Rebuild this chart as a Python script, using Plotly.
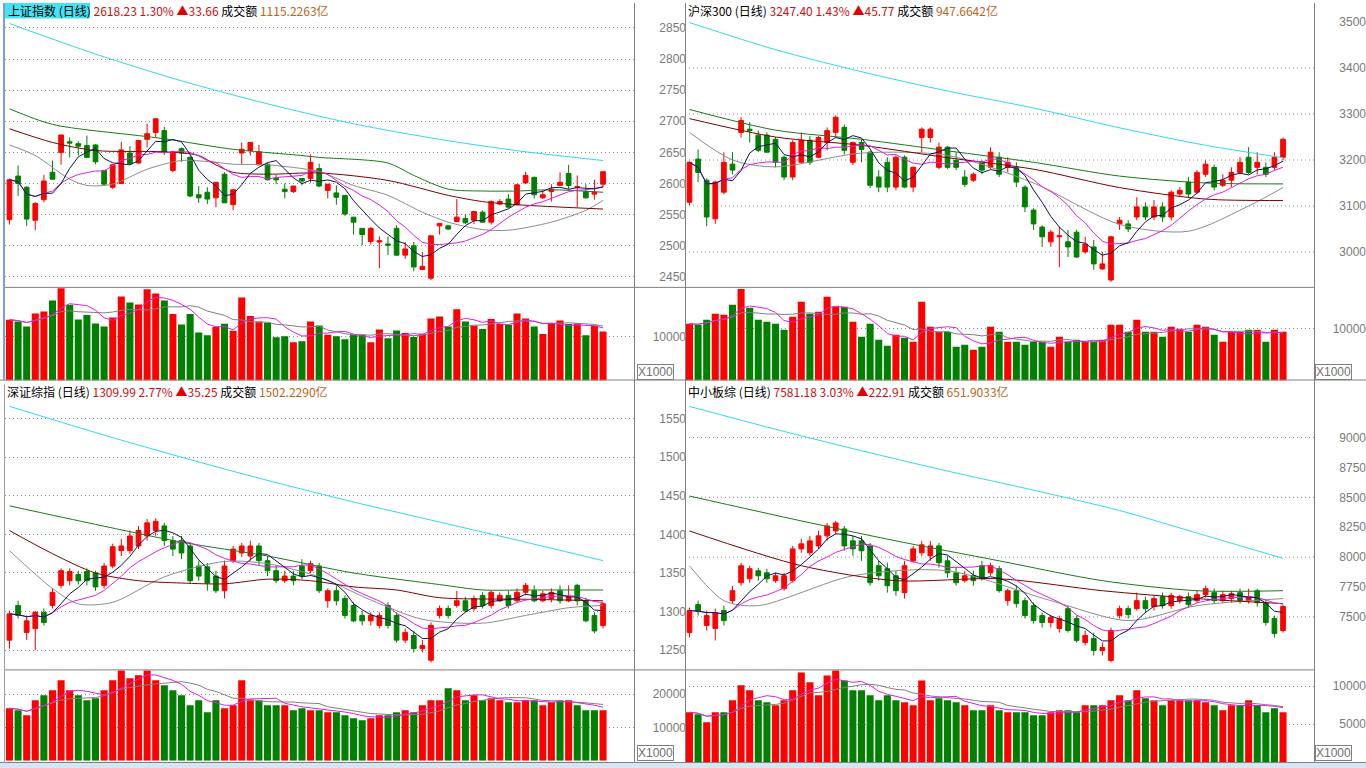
import plotly.graph_objects as go
import pandas as pd

W, H = 1366, 768
N = 70
idx = list(range(N))

# ---------------- 上证指数 (top-left) ----------------
sh_open = [2542,2612,2594,2541,2574,2618,2650,2667,2664,2661,
 2662,2621,2594,2600,2649,2633,2671,2682,2685,2621,
 2656,2642,2582,2586,2577,2615,2566,2649,2653,2630,
 2631,2608,2591,2587,2608,2608,2624,2589,2585,2581,
 2546,2528,2507,2506,2503,2528,2485,2500,2462,2448,
 2532,2532,2539,2544,2541,2554,2538,2567,2575,2566,
 2601,2610,2577,2587,2597,2616,2594,2587,2583,2599]
sh_high = [2608,2629,2596,2570,2614,2637,2678,2674,2668,2677,
 2663,2622,2631,2667,2660,2670,2696,2704,2691,2651,
 2658,2645,2596,2594,2602,2618,2591,2666,2666,2662,
 2634,2614,2600,2596,2609,2647,2632,2599,2597,2581,
 2546,2528,2530,2515,2515,2533,2506,2506,2490,2516,
 2536,2533,2575,2551,2555,2557,2573,2575,2583,2599,
 2619,2611,2589,2599,2618,2630,2613,2599,2606,2619]
sh_low = [2534,2580,2532,2525,2570,2606,2630,2642,2645,2642,
 2631,2598,2591,2600,2630,2632,2658,2674,2646,2618,
 2635,2578,2569,2567,2562,2569,2557,2630,2645,2630,
 2605,2599,2576,2585,2597,2601,2594,2576,2566,2548,
 2518,2501,2502,2464,2485,2484,2479,2459,2461,2445,
 2518,2525,2538,2535,2535,2537,2534,2565,2561,2565,
 2599,2576,2575,2571,2596,2591,2562,2576,2574,2594]
sh_close = [2606,2600,2543,2568,2604,2607,2678,2665,2660,2642,
 2635,2599,2630,2654,2632,2669,2680,2704,2650,2651,
 2649,2580,2577,2575,2602,2569,2590,2655,2666,2651,
 2606,2606,2587,2596,2604,2634,2596,2599,2578,2551,
 2538,2518,2528,2508,2501,2485,2495,2466,2467,2516,
 2536,2527,2546,2537,2555,2538,2571,2571,2562,2598,
 2613,2582,2582,2591,2602,2597,2595,2577,2586,2619]
sh_vol = [13864,13485,12349,15304,15758,18258,21061,17273,13940,14925,
 13030,12349,14394,19167,17803,17349,20834,19849,18258,15152,
 12803,15152,10985,10303,12197,12955,11364,18940,14697,13485,
 13182,9849,10076,8712,8940,13485,12576,10455,10076,9394,
 10455,10455,8712,11667,9621,11440,10834,9924,10682,14167,
 14622,12349,16288,13485,12500,11743,14016,12879,12728,15304,
 14167,12349,10606,13106,13713,12879,13030,10303,12576,11212]
sh_ma20_i = [0,3,7,9,12,16,20,24,26,30,36,40,44,48,51,55,58,63,67,69]
sh_ma20_v = [2662,2645,2607,2597,2599,2623,2637,2634,2631,2630,2619,2597,2581,2554,2538,2526,2525,2538,2557,2573]
sh_ma30_i = [0,5,10,18,22,24,26,30,36,44,51,55,59,69]
sh_ma30_v = [2688,2666,2653,2651,2645,2630,2618,2615,2617,2605,2581,2571,2566,2559]
sh_ma60_i = [0,5,15,18,26,34,36,44,47,51,55,59,63,69]
sh_ma60_v = [2720,2695,2677,2672,2655,2645,2642,2633,2613,2591,2588,2588,2590,2586]
sh_ma250_i = [0,10,20,30,40,50,60,69]
sh_ma250_v = [2857,2808,2765,2728,2696,2671,2651,2637]
sh_ticks = [2450,2500,2550,2600,2650,2700,2750,2800,2850]
sh_vticks = [10000]

# ---------------- 沪深300 (top-right) ----------------
hs_open = [3108,3202,3156,3072,3130,3191,3260,3267,3254,3254,
 3245,3206,3163,3195,3243,3206,3238,3260,3271,3195,
 3238,3217,3163,3195,3141,3206,3141,3249,3249,3184,
 3228,3199,3163,3156,3195,3184,3206,3184,3184,3141,
 3091,3054,3022,3033,3022,3043,3000,3011,2963,2939,
 3061,3061,3076,3098,3076,3098,3076,3126,3152,3130,
 3169,3184,3145,3156,3173,3206,3184,3184,3184,3206]
hs_high = [3197,3223,3160,3155,3217,3217,3293,3282,3264,3260,
 3250,3210,3243,3260,3252,3252,3271,3297,3277,3240,
 3245,3220,3178,3206,3210,3210,3186,3271,3271,3238,
 3230,3217,3178,3173,3199,3228,3217,3206,3195,3145,
 3095,3058,3048,3054,3048,3048,3033,3026,3000,3035,
 3076,3069,3119,3108,3113,3108,3134,3141,3163,3178,
 3199,3190,3169,3184,3206,3228,3217,3195,3217,3249]
hs_low = [3102,3152,3056,3061,3125,3169,3249,3238,3217,3215,
 3184,3156,3156,3193,3189,3204,3221,3249,3212,3189,
 3195,3139,3130,3130,3134,3139,3130,3217,3238,3180,
 3180,3178,3141,3152,3169,3180,3163,3173,3141,3087,
 3048,3011,3011,2967,2989,2987,2996,2961,2961,2935,
 3048,3043,3069,3069,3069,3065,3069,3119,3119,3126,
 3163,3134,3141,3141,3169,3169,3169,3163,3178,3199]
hs_close = [3195,3173,3076,3152,3195,3178,3286,3264,3221,3217,
 3195,3163,3238,3243,3195,3249,3264,3293,3221,3238,
 3223,3145,3141,3141,3206,3141,3184,3267,3267,3228,
 3184,3184,3147,3169,3178,3217,3169,3195,3152,3098,
 3061,3033,3043,3035,3011,2989,3017,2974,2974,3033,
 3069,3050,3098,3076,3098,3076,3130,3134,3126,3173,
 3191,3141,3156,3173,3195,3173,3195,3169,3206,3245]
hs_vol = [10961,10769,11730,12884,12692,14615,17692,14038,11730,11346,
 10961,9807,12307,15192,12884,13269,16153,14230,14230,11346,
 8461,10961,7884,6730,8846,8269,7500,15192,10384,9423,
 9423,6538,6923,5961,6538,10384,9423,7500,7500,6923,
 7500,7500,6538,8461,7500,7884,7500,7500,7884,10769,
 10769,9423,11730,9423,9423,8461,10384,10000,9423,10769,
 10384,8846,7500,9423,9423,9807,9807,7500,9807,9423]
hs_ma20_i = [0,5,10,20,30,40,50,58,65,69]
hs_ma20_v = [3260,3200,3185,3215,3210,3150,3060,3045,3100,3140]
hs_ma30_i = [0,10,20,30,40,50,60,69]
hs_ma30_v = [3290,3250,3232,3205,3180,3140,3115,3112]
hs_ma60_i = [0,10,20,30,40,50,60,69]
hs_ma60_v = [3310,3265,3245,3220,3195,3165,3150,3148]
hs_ma250_i = [0,10,20,30,40,50,60,69]
hs_ma250_v = [3499,3440,3392,3350,3313,3270,3232,3205]
hs_ticks = [3000,3100,3200,3300,3400,3500]
hs_vticks = [10000]

# ---------------- 深证综指 (bottom-left) ----------------
sz_open = [1263,1308,1273,1278,1299,1308,1334,1340,1348,1352,
 1350,1334,1359,1379,1379,1385,1398,1405,1411,1392,
 1392,1385,1359,1358,1346,1327,1366,1376,1372,1385,
 1366,1353,1340,1346,1359,1353,1359,1314,1327,1317,
 1308,1295,1288,1282,1308,1295,1263,1269,1252,1237,
 1295,1304,1308,1314,1304,1321,1308,1314,1321,1314,
 1325,1327,1314,1317,1327,1314,1334,1314,1295,1282]
sz_high = [1301,1314,1295,1301,1304,1330,1356,1356,1353,1356,
 1353,1363,1388,1394,1405,1411,1420,1421,1415,1398,
 1398,1389,1366,1363,1353,1366,1385,1389,1392,1389,
 1372,1359,1353,1353,1368,1366,1363,1330,1334,1321,
 1312,1301,1299,1299,1312,1299,1278,1275,1263,1286,
 1308,1308,1327,1319,1321,1325,1327,1325,1327,1330,
 1337,1334,1327,1330,1334,1334,1336,1318,1299,1312]
sz_low = [1252,1291,1263,1250,1282,1304,1330,1334,1335,1334,
 1327,1330,1356,1372,1375,1381,1392,1398,1385,1372,
 1368,1337,1340,1327,1324,1317,1363,1371,1366,1359,
 1346,1337,1337,1334,1342,1350,1324,1305,1308,1291,
 1286,1282,1282,1278,1278,1260,1259,1247,1247,1234,
 1291,1291,1305,1299,1301,1304,1304,1312,1304,1312,
 1321,1312,1312,1312,1310,1312,1308,1286,1272,1278]
sz_close = [1297,1295,1288,1299,1286,1325,1353,1352,1340,1340,
 1332,1359,1384,1385,1398,1405,1415,1417,1392,1381,
 1376,1340,1346,1337,1327,1359,1381,1385,1385,1366,
 1353,1340,1346,1340,1346,1362,1327,1327,1314,1295,
 1288,1288,1295,1295,1282,1263,1273,1252,1256,1282,
 1304,1295,1314,1301,1317,1308,1325,1321,1308,1325,
 1334,1314,1323,1325,1314,1319,1314,1288,1275,1310]
sz_vol = [15796,15195,13694,18198,19700,21201,24204,21201,19700,18198,
 18799,21201,24204,27207,24805,25706,27207,24204,22703,21201,
 19700,16697,18198,14595,18198,15796,16697,24204,18198,18198,
 16697,16697,16697,15195,15796,15195,15195,14595,14595,13694,
 12793,12192,12793,13694,13694,14595,15195,14595,16697,18198,
 18198,21801,21201,18198,19700,18198,18799,18198,17598,17598,
 18198,18198,16697,17598,18198,18198,16697,15195,15195,15195]
sz_ma20_i = [0,5,8,12,18,25,30,36,42,48,55,60,65,69]
sz_ma20_v = [1379,1330,1310,1312,1345,1365,1362,1345,1315,1290,1285,1295,1305,1308]
sz_ma30_i = [0,5,10,15,20,25,30,35,40,45,50,60,69]
sz_ma30_v = [1405,1375,1350,1340,1337,1336,1342,1340,1332,1328,1318,1316,1314]
sz_ma60_i = [0,10,20,30,40,50,55,60,69]
sz_ma60_v = [1437,1413,1390,1372,1350,1335,1328,1328,1328]
sz_ma250_i = [0,10,20,30,40,50,60,69]
sz_ma250_v = [1566,1532,1500,1470,1442,1416,1390,1366]
sz_ticks = [1250,1300,1350,1400,1450,1500,1550]
sz_vticks = [10000,20000]

# ---------------- 中小板综 (bottom-right) ----------------
zx_open = [7369,7603,7428,7403,7553,7636,7786,7819,7886,7869,
 7803,7736,7803,8069,8036,8094,8178,8219,8236,8136,
 8136,8094,7928,7903,7844,7703,7969,8036,8011,8094,
 7969,7869,7803,7844,7928,7869,7903,7636,7719,7636,
 7594,7511,7453,7403,7569,7486,7286,7319,7219,7136,
 7511,7569,7569,7636,7586,7669,7594,7636,7669,7636,
 7686,7703,7636,7653,7703,7636,7719,7619,7486,7386]
zx_high = [7578,7636,7553,7569,7594,7761,7953,7928,7911,7903,
 7869,7869,8094,8153,8178,8219,8286,8303,8261,8178,
 8178,8119,7969,7953,7886,7969,8094,8136,8136,8119,
 8011,7911,7886,7886,7969,7953,7928,7736,7761,7661,
 7619,7536,7519,7511,7594,7511,7386,7369,7286,7411,
 7594,7594,7703,7669,7678,7703,7703,7686,7703,7719,
 7761,7736,7719,7719,7736,7736,7736,7636,7511,7603]
zx_low = [7328,7511,7386,7303,7428,7611,7761,7786,7803,7786,
 7786,7719,7786,8036,8011,8069,8136,8194,8053,8011,
 7969,7761,7803,7703,7678,7653,7953,8011,7969,7911,
 7828,7761,7786,7761,7803,7844,7703,7594,7578,7486,
 7444,7411,7411,7369,7369,7286,7261,7178,7178,7119,
 7486,7486,7553,7536,7553,7569,7569,7611,7578,7619,
 7661,7611,7619,7619,7611,7611,7586,7428,7328,7369]
zx_close = [7553,7544,7511,7536,7469,7719,7928,7903,7844,7819,
 7844,7844,8069,8111,8136,8178,8261,8286,8094,8069,
 8053,7786,7844,7761,7719,7928,8069,8103,8094,7953,
 7869,7786,7844,7803,7819,7928,7719,7719,7611,7511,
 7469,7453,7494,7486,7386,7303,7344,7219,7244,7386,
 7569,7519,7636,7569,7653,7594,7678,7669,7603,7686,
 7736,7636,7686,7694,7636,7669,7619,7453,7361,7586]
zx_vol = [6564,6303,5259,6564,6564,8130,10088,9435,8130,7869,
 7478,8130,9435,11784,10479,8783,11393,12045,10740,9435,
 9435,8783,8130,8783,8130,7869,7478,10740,8130,8391,
 8130,7869,7478,6825,6825,7478,6825,6564,6564,6564,
 6173,6173,6564,6825,6825,6564,7478,7478,7478,8130,
 8783,8130,9435,8391,8130,7478,8130,8130,8130,8130,
 7869,7478,6825,7478,7478,8130,7478,6564,7086,6564]
zx_ma20_i = [0,4,8,19,30,42,51,59,69]
zx_ma20_v = [7928,7636,7594,7844,7886,7636,7469,7594,7653]
zx_ma30_i = [0,13,24,36,48,59,69]
zx_ma30_v = [8219,7928,7803,7819,7719,7653,7611]
zx_ma60_i = [0,13,24,36,48,59,69]
zx_ma60_v = [8511,8303,8136,7969,7803,7719,7719]
zx_ma250_i = [0,10,20,30,40,50,60,69]
zx_ma250_v = [9261,9070,8890,8720,8560,8390,8180,7990]
zx_ticks = [7500,7750,8000,8250,8500,8750,9000]
zx_grid = [7500,8000,8500,9000]
zx_vticks = [5000,10000]

headers = [
    ("上证指数 (日线)", "2618.23 1.30%", "33.66", "1115.2263亿"),
    ("沪深300 (日线)", "3247.40 1.43%", "45.77", "947.6642亿"),
    ("深证综指 (日线)", "1309.99 2.77%", "35.25", "1502.2290亿"),
    ("中小板综 (日线)", "7581.18 3.03%", "222.91", "651.9033亿"),
]

# ---------------- layout helpers ----------------
def fx(p):
    return p / W

def fy(p):
    return 1 - p / H

UP, DN = "#ff0000", "#008000"
GRID = "#8a8a8a"
TICKFONT = dict(family="Liberation Sans, Arial, sans-serif", size=12, color="#7a7a7a")
XR = [-0.52, 72.6]

fig = go.Figure()
layout = {}
shapes = []
annotations = []

panels = [
    dict(o=sh_open, h=sh_high, l=sh_low, c=sh_close, v=sh_vol,
         mas=[(sh_ma20_i, sh_ma20_v, "#8c8c8c"), (sh_ma30_i, sh_ma30_v, "#800000"),
              (sh_ma60_i, sh_ma60_v, "#1a7a1a"), (sh_ma250_i, sh_ma250_v, "#30d8f0")],
         x0=5, x1=634, pt=15, pb=285, vb=379, pr=[2434, 2866], vr=[0, 21364],
         ticks=sh_ticks, grid=sh_ticks, vticks=sh_vticks, lab=686),
    dict(o=hs_open, h=hs_high, l=hs_low, c=hs_close, v=hs_vol,
         mas=[(hs_ma20_i, hs_ma20_v, "#8c8c8c"), (hs_ma30_i, hs_ma30_v, "#800000"),
              (hs_ma60_i, hs_ma60_v, "#1a7a1a"), (hs_ma250_i, hs_ma250_v, "#30d8f0")],
         x0=685, x1=1314, pt=15, pb=285, vb=379, pr=[2924, 3509], vr=[0, 18077],
         ticks=hs_ticks, grid=hs_ticks[:-1], vticks=hs_vticks, lab=1366),
    dict(o=sz_open, h=sz_high, l=sz_low, c=sz_close, v=sz_vol,
         mas=[(sz_ma20_i, sz_ma20_v, "#8c8c8c"), (sz_ma30_i, sz_ma30_v, "#800000"),
              (sz_ma60_i, sz_ma60_v, "#1a7a1a"), (sz_ma250_i, sz_ma250_v, "#30d8f0")],
         x0=5, x1=634, pt=397, pb=669, vb=760.6, pr=[1225.1, 1576.2], vr=[0, 27508],
         ticks=sz_ticks, grid=sz_ticks, vticks=sz_vticks, lab=686),
    dict(o=zx_open, h=zx_high, l=zx_low, c=zx_close, v=zx_vol,
         mas=[(zx_ma20_i, zx_ma20_v, "#8c8c8c"), (zx_ma30_i, zx_ma30_v, "#800000"),
              (zx_ma60_i, zx_ma60_v, "#1a7a1a"), (zx_ma250_i, zx_ma250_v, "#30d8f0")],
         x0=685, x1=1314, pt=397, pb=669, vb=762.3, pr=[7060.8, 9327.5], vr=[0, 12180],
         ticks=zx_ticks, grid=zx_grid, vticks=zx_vticks, lab=1366),
]

for k, p in enumerate(panels):
    a_p = 2 * k + 1
    a_v = 2 * k + 2
    xs_p = "x" if a_p == 1 else f"x{a_p}"
    ys_p = "y" if a_p == 1 else f"y{a_p}"
    xs_v, ys_v = f"x{a_v}", f"y{a_v}"

    fig.add_trace(go.Candlestick(
        x=idx, open=p["o"], high=p["h"], low=p["l"], close=p["c"],
        increasing=dict(line=dict(color=UP, width=1), fillcolor=UP),
        decreasing=dict(line=dict(color=DN, width=1), fillcolor=DN),
        whiskerwidth=0, xaxis=xs_p, yaxis=ys_p, hoverinfo="skip"))
    close = pd.Series(p["c"])
    ma5 = close.rolling(5, min_periods=1).mean()
    ma10 = close.rolling(10, min_periods=1).mean()
    for mi, mv, col in p["mas"]:
        fig.add_trace(go.Scatter(x=mi, y=mv, mode="lines",
                                 line=dict(color=col, width=1, shape="spline", smoothing=0.8),
                                 xaxis=xs_p, yaxis=ys_p, hoverinfo="skip"))
    fig.add_trace(go.Scatter(x=idx, y=ma10, mode="lines", line=dict(color="#e020e0", width=1),
                             xaxis=xs_p, yaxis=ys_p, hoverinfo="skip"))
    fig.add_trace(go.Scatter(x=idx, y=ma5, mode="lines", line=dict(color="#10105a", width=1),
                             xaxis=xs_p, yaxis=ys_p, hoverinfo="skip"))

    vcol = [UP if c >= o else DN for o, c in zip(p["o"], p["c"])]
    fig.add_trace(go.Bar(x=idx, y=p["v"], marker=dict(color=vcol, line=dict(width=0)),
                         width=0.82, xaxis=xs_v, yaxis=ys_v, hoverinfo="skip"))
    vol = pd.Series(p["v"])
    fig.add_trace(go.Scatter(x=idx, y=vol.rolling(10, min_periods=1).mean(), mode="lines",
                             line=dict(color="#808080", width=1), xaxis=xs_v, yaxis=ys_v, hoverinfo="skip"))
    fig.add_trace(go.Scatter(x=idx, y=vol.rolling(5, min_periods=1).mean(), mode="lines",
                             line=dict(color="#e020e0", width=1), xaxis=xs_v, yaxis=ys_v, hoverinfo="skip"))

    xd = [fx(p["x0"]), fx(p["x1"])]
    xname_p = "xaxis" if a_p == 1 else f"xaxis{a_p}"
    yname_p = "yaxis" if a_p == 1 else f"yaxis{a_p}"
    layout[xname_p] = dict(domain=xd, range=XR, visible=False, anchor=ys_p,
                           rangeslider=dict(visible=False), fixedrange=True)
    layout[f"xaxis{a_v}"] = dict(domain=xd, range=XR, visible=False, anchor=ys_v, fixedrange=True)
    same_grid = p["grid"] == p["ticks"]
    layout[yname_p] = dict(domain=[fy(p["pb"]), fy(p["pt"])], range=p["pr"], anchor="free",
                           position=fx(p["lab"]), side="left", tickvals=p["ticks"],
                           ticktext=[str(t) for t in p["ticks"]], ticks="",
                           showgrid=same_grid, gridcolor=GRID, griddash="1px,3px", gridwidth=1,
                           zeroline=False, showline=False, tickfont=TICKFONT, fixedrange=True)
    layout[f"yaxis{a_v}"] = dict(domain=[fy(p["vb"]), fy(p["pb"])], range=p["vr"], anchor="free",
                                 position=fx(p["lab"]), side="left", tickvals=p["vticks"],
                                 ticktext=[str(t) for t in p["vticks"]], ticks="",
                                 showgrid=True, gridcolor=GRID, griddash="1px,3px", gridwidth=1,
                                 zeroline=False, showline=False, tickfont=TICKFONT, fixedrange=True)
    if not same_grid:
        for g in p["grid"]:
            shapes.append(dict(type="line", xref=f"{xs_p} domain", yref=ys_p, x0=0, x1=1, y0=g, y1=g,
                               line=dict(color=GRID, width=1, dash="1px,3px"), layer="below"))

# ---------------- frame lines ----------------
LC = "#808080"
def vline(x, y0, y1, color=LC, width=1):
    shapes.append(dict(type="line", xref="paper", yref="paper", x0=fx(x), x1=fx(x),
                       y0=fy(y0), y1=fy(y1), line=dict(color=color, width=width)))

def hline(y, x0, x1, color=LC, width=1):
    shapes.append(dict(type="line", xref="paper", yref="paper", x0=fx(x0), x1=fx(x1),
                       y0=fy(y), y1=fy(y), line=dict(color=color, width=width)))

vline(634.5, 0, 763)
vline(685.5, 0, 763)
vline(1314.5, 0, 763)
hline(285.5, 4, 1314)
hline(669.5, 4, 1314)
hline(378.5, 0, 1366)
hline(762.5, 0, 1366)
vline(4, 0, 379, color="#7b9fd0", width=2)
vline(4.5, 383, 763, color="#a0a0a0", width=1)
# bottom strip
shapes.append(dict(type="rect", xref="paper", yref="paper", x0=0, x1=1, y0=0, y1=fy(763),
                   fillcolor="#d8e6f4", line=dict(width=0)))
# active title highlight
shapes.append(dict(type="rect", xref="paper", yref="paper", x0=fx(5), x1=fx(90), y0=fy(15.5), y1=fy(0),
                   fillcolor="#44e2f2", line=dict(width=0), layer="below"))

# ---------------- headers ----------------
HFONT = dict(family="Noto Sans CJK SC, sans-serif", size=12, color="#000000")
pos = [(6, 8), (686, 8), (5, 390), (686, 390)]
for (name, price, chg, amt), (hx, hy) in zip(headers, pos):
    txt = (f"{name} <span style='color:#cc1010'>{price}</span> "
           f"<span style='color:#e00000'>▲</span><span style='color:#cc1010'>{chg}</span> "
           f"成交额 <span style='color:#c06418'>{amt}</span>")
    annotations.append(dict(xref="paper", yref="paper", x=fx(hx), y=fy(hy), xanchor="left",
                            yanchor="middle", text=txt, showarrow=False, font=HFONT))

# X1000 boxes
for bx, by in [(637, 379), (1315, 379), (637, 762), (1315, 762)]:
    annotations.append(dict(xref="paper", yref="paper", x=fx(bx), y=fy(by - 1), xanchor="left",
                            yanchor="bottom", text="X1000", showarrow=False,
                            font=dict(family="Liberation Sans, Arial, sans-serif", size=12, color="#707070"),
                            bordercolor="#808080", borderwidth=1, borderpad=0, bgcolor="#ffffff"))

fig.update_layout(width=W, height=H, margin=dict(l=0, r=0, t=0, b=0),
                  paper_bgcolor="#ffffff", plot_bgcolor="#ffffff", showlegend=False,
                  hovermode=False, boxgap=0.22, bargap=0.15,
                  shapes=shapes, annotations=annotations, **layout)

fig.write_html("out.html")
